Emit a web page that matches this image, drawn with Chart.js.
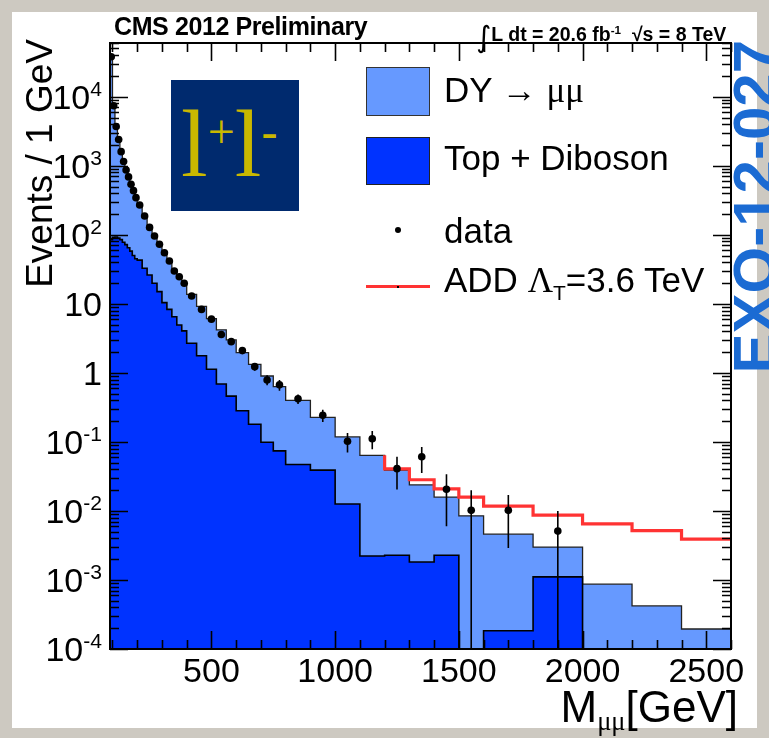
<!DOCTYPE html>
<html><head><meta charset="utf-8">
<script src="https://cdn.jsdelivr.net/npm/chart.js@4.4.1/dist/chart.umd.min.js"></script>
<style>
html,body{margin:0;padding:0;}
body{width:769px;height:738px;position:relative;overflow:hidden;background:#cdc9c1;font-family:"Liberation Sans",Arial,sans-serif;}
#panel{position:absolute;left:12px;top:12px;width:745px;height:716px;background:#fff;}
#wrap{position:absolute;left:0;top:0;width:769px;height:738px;}
.t{position:absolute;white-space:nowrap;line-height:1;color:#000;}
.sup{position:relative;font-size:0.62em;top:-0.62em;}
</style></head><body>
<div id="panel"></div>
<div id="wrap"><canvas id="c" width="769" height="738"></canvas></div>
<div id="ov"></div>
<script>
// ---------------- data (values per GeV) ----------------
const binEdges = [90,100,110,120,130,140,150,160,170,180,190,200,220,240,260,280,300,320,340,360,380,400,440,480,520,560,600,650,700,750,800,900,1000,1100,1200,1300,1400,1500,1600,1800,2000,2200,2400,2500,2600];
// stacked total (DY -> mumu on top of Top + Diboson)
const stackTotal = [36000,7200,3800,2500,1650,1200,880,690,545,440,350,
                    275,195,135,98,74,56,42,31,24,19,
                    13.7,9.2,6.1,4.2,3.0,
                    1.96,1.33,0.90,0.63,
                    0.40,0.227,0.118,0.064,0.039,0.0238,0.0158,0.0085,
                    0.0046,0.0030,0.00087,0.00042,
                    0.000195,0.000195];
const topDiboson = [85,92,93,90,85,78,72,65,58,50,45,
                    43,32.7,26.2,19.9,15.0,10.4,8.3,6.5,4.94,4.05,
                    2.69,1.77,1.13,0.69,0.46,
                    0.283,0.180,0.099,0.074,
                    0.047,0.039,0.0126,0.00222,0.00228,0.00182,0.00228,0,
                    0.000184,0.00111,0,0,
                    0,0];
// ADD Lambda_T = 3.6 TeV prediction (bins from 1100 GeV)
const addEdges = [1100,1200,1300,1400,1500,1600,1800,2000,2200,2400,2500,2600];
const addValues = [0.064,0.0406,0.0283,0.0208,0.0158,0.0117,0.0087,0.0065,0.0052,0.0039,0.0039];
// data
const dataMass   = [95,105,115,125,135,145,155,165,175,185,195,
                    210,230,250,270,290,310,330,350,370,390,
                    420,460,500,540,580,625,675,725,775,
                    850,950,1050,1150,1250,1350,1450,1550,1700,1900];
const dataValues = [38000,7400,3700,2400,1600,1150,870,690,540,436,345,
                    270,187,128,96,73,55,41.8,29.9,24.7,19.9,
                    13.0,8.3,6.0,3.6,2.83,2.1,1.23,0.79,0.67,
                    0.42,0.243,0.102,0.111,0.041,0.061,0.0206,0.0102,0.0102,0.0051];
const dataErrLow = [38000,7400,3700,2400,1600,1150,870,690,540,436,345,
                    270,187,128,96,73,55,41.8,29.9,24.7,19.9,
                    12.4,7.85,5.6,3.3,2.56,1.9,1.07,0.66,0.55,
                    0.355,0.194,0.070,0.078,0.0205,0.0355,0.006,0,0.0029,0];
const dataErrHigh= [38000,7400,3700,2400,1600,1150,870,690,540,436,345,
                    270,187,128,96,73,55,41.8,29.9,24.7,19.9,
                    13.6,8.75,6.4,3.9,3.10,2.3,1.39,0.92,0.79,
                    0.485,0.292,0.134,0.144,0.061,0.0845,0.034,0.020,0.017,0.010];
const xTickLabels = [500,1000,1500,2000,2500];
const yTickExponents = [-4,-3,-2,-1,0,1,2,3,4];

// ---------------- helpers ----------------
const FLOOR = 1e-7; // empty bins sit below the axis minimum
function histPoints(edges, vals){
  const pts = vals.map((v,i)=>({x:edges[i], y: v>0 ? v : FLOOR}));
  pts.push({x:edges[edges.length-1], y: vals[vals.length-1]>0 ? vals[vals.length-1] : FLOOR});
  return pts;
}
function addPoints(edges, vals){
  return vals.map((v,i)=>({x:edges[i+1], y:v}));
}

const LIGHT = '#6699ff', DARK = '#0033ff', RED = '#ff3333';

const frameTicks = {
  id:'frameTicks',
  afterDatasetsDraw(chart){
    const {ctx, chartArea:a, scales:{x,y}} = chart;
    ctx.save();
    ctx.strokeStyle = '#000'; ctx.lineWidth = 1.6;
    ctx.beginPath();
    ctx.rect(a.left, a.top, a.right-a.left, a.bottom-a.top);
    ctx.clip();
    ctx.beginPath();
    dataMass.forEach((m,i)=>{
      const px = x.getPixelForValue(m);
      const lo = dataErrLow[i] > 0 ? y.getPixelForValue(dataErrLow[i]) : a.bottom;
      const hi = y.getPixelForValue(dataErrHigh[i]);
      if (Math.abs(lo-hi) > 0.5){ ctx.moveTo(px, lo); ctx.lineTo(px, hi); }
    });
    ctx.stroke();
    ctx.fillStyle = '#000';
    dataMass.forEach((m,i)=>{
      ctx.beginPath();
      ctx.arc(x.getPixelForValue(m), y.getPixelForValue(dataValues[i]), 3.8, 0, Math.PI*2);
      ctx.fill();
    });
    ctx.restore();
    ctx.save();
    ctx.strokeStyle = '#000';
    ctx.lineWidth = 1.6;
    ctx.beginPath();
    for (let v = 100; v <= 2600; v += 100){
      const px = Math.round(x.getPixelForValue(v)) + 0.5;
      const len = (v % 500 === 0) ? 18 : 9;
      ctx.moveTo(px, a.bottom); ctx.lineTo(px, a.bottom - len);
      ctx.moveTo(px, a.top); ctx.lineTo(px, a.top + len);
    }
    for (let e = -4; e <= 4; e++){
      for (let k = 1; k <= 9; k++){
        const v = k * Math.pow(10, e);
        if (v > y.max) continue;
        const py = Math.round(y.getPixelForValue(v)) + 0.5;
        const len = (k === 1) ? 18 : 9;
        ctx.moveTo(a.left, py); ctx.lineTo(a.left + len, py);
        ctx.moveTo(a.right, py); ctx.lineTo(a.right - len, py);
      }
    }
    ctx.stroke();
    ctx.lineWidth = 2;
    ctx.strokeRect(a.left, a.top, a.right - a.left, a.bottom - a.top);
    ctx.restore();
  }
};

const chart = new Chart(document.getElementById('c'), {
  type:'line',
  data:{
    datasets:[
      {label:'DY \u2192 \u03bc\u03bc', data:histPoints(binEdges, stackTotal), stepped:'before',
       backgroundColor:LIGHT, borderColor:'#222', borderWidth:1.3, fill:'start', pointRadius:0, order:4},
      {label:'Top + Diboson', data:histPoints(binEdges, topDiboson), stepped:'before',
       backgroundColor:DARK, borderColor:'#000', borderWidth:1.6, fill:'start', pointRadius:0, order:3},
      {label:'ADD', data:addPoints(addEdges, addValues), stepped:'after',
       borderColor:RED, borderWidth:3.2, fill:false, pointRadius:0, order:2},
      {label:'data', data:dataMass.map((m,i)=>({x:m, y:dataValues[i]})), showLine:false,
       pointRadius:0, backgroundColor:'#000', borderColor:'#000', order:1}
    ]
  },
  options:{
    responsive:false, animation:false, devicePixelRatio:1,
    layout:{padding:{left:110, top:43, right:38, bottom:89}},
    plugins:{legend:{display:false}, tooltip:{enabled:false}},
    scales:{
      x:{type:'linear', min:90, max:2600, display:false},
      y:{type:'logarithmic', min:1e-4, max:6e4, display:false}
    }
  },
  plugins:[frameTicks]
});

// ---------------- text overlay ----------------
const ov = document.getElementById('ov');
function place(html, x, base, fs, align, style){
  const d = document.createElement('div');
  d.className = 't';
  d.innerHTML = html;
  d.style.fontSize = fs + 'px';
  d.style.top = (base - 0.8465*fs) + 'px';
  if (align === 'right') d.style.right = (769 - x) + 'px';
  else if (align === 'center'){ d.style.left = x + 'px'; d.style.transform = 'translateX(-50%)'; }
  else d.style.left = x + 'px';
  if (style) d.style.cssText += style;
  ov.appendChild(d);
  return d;
}
function vtext(txt, fs, boxLeft, endY, W, style){
  const d = document.createElement('div');
  d.className = 't';
  d.textContent = txt;
  d.style.cssText += 'font-size:'+fs+'px;width:'+W+'px;text-align:right;left:0;top:0;transform-origin:0 0;transform:translate('+boxLeft+'px,'+(endY+W)+'px) rotate(-90deg);' + (style||'');
  ov.appendChild(d);
}
const xs = chart.scales.x, ys = chart.scales.y;
xTickLabels.forEach(v=> place(String(v), xs.getPixelForValue(v), 682, 34, 'center'));
yTickExponents.forEach(e=>{
  const py = ys.getPixelForValue(Math.pow(10,e));
  const base = py + 0.358*34;
  let html;
  if (e === 0) html = '1';
  else if (e === 1) html = '10';
  else html = '10<span class="sup">' + (e<0 ? '-' : '') + Math.abs(e) + '</span>';
  place(html, 102, base, 34, 'right');
});
// axis titles
place('M<span style="font-family:\'Liberation Serif\',serif;font-size:0.6em;position:relative;top:0.3em;">\u03bc\u03bc</span>[GeV]', 738, 722, 44, 'right');
vtext('Events / 1 GeV', 37, 21, 39, 320);
// header
place('CMS 2012 Preliminary', 114, 35, 25, 'left', 'font-weight:bold;letter-spacing:-0.4px;');
place('<span style="font-family:\'DejaVu Sans\';font-weight:normal;font-size:1.5em;position:relative;top:0.18em;">\u222b</span>L dt = 20.6 fb<span class="sup" style="font-size:0.6em;top:-0.6em">-1</span>&nbsp; \u221as = 8 TeV', 476, 34, 19.5, 'left', 'font-weight:bold;');
// EXO label
vtext('EXO-12-027', 60, 725, 40, 400, 'font-weight:bold;color:#1b6bd3;');
// logo
(function(){
  const b = document.createElement('div');
  b.style.cssText = 'position:absolute;left:171px;top:80px;width:128px;height:131px;background:#002a6e;';
  ov.appendChild(b);
  place('l<span style="font-size:0.5em;position:relative;top:-28px;">+</span>l<span style="font-size:0.5em;position:relative;top:-28px;">-</span>',
        181, 177, 96, 'left', 'font-family:"Liberation Serif",serif;color:#c9b800;');
})();
// legend
function box(x,y,w,h,bg,border){
  const b = document.createElement('div');
  b.style.cssText = 'position:absolute;left:'+x+'px;top:'+y+'px;width:'+w+'px;height:'+h+'px;background:'+bg+';'+(border?'border:1px solid '+border+';box-sizing:border-box;':'');
  ov.appendChild(b); return b;
}
box(366,67,64,49,LIGHT,'#333');
box(366,137,64,48,DARK,'#222');
box(395,227,6,6,'#000').style.borderRadius='3px';
box(366,285,64,3,RED);
box(397,285.5,2,2,'#000');
place('DY \u2192 <span style="font-family:\'Liberation Serif\',serif;">\u03bc\u03bc</span>', 444, 102, 35, 'left');
place('Top + Diboson', 444, 170, 35, 'left');
place('data', 444, 243, 35, 'left');
place('ADD <span style="font-family:\'Liberation Serif\',serif;">\u039b</span><span style="font-size:0.6em;position:relative;top:0.35em;">T</span>=3.6 TeV', 444, 292, 35, 'left');
</script>
</body></html>
